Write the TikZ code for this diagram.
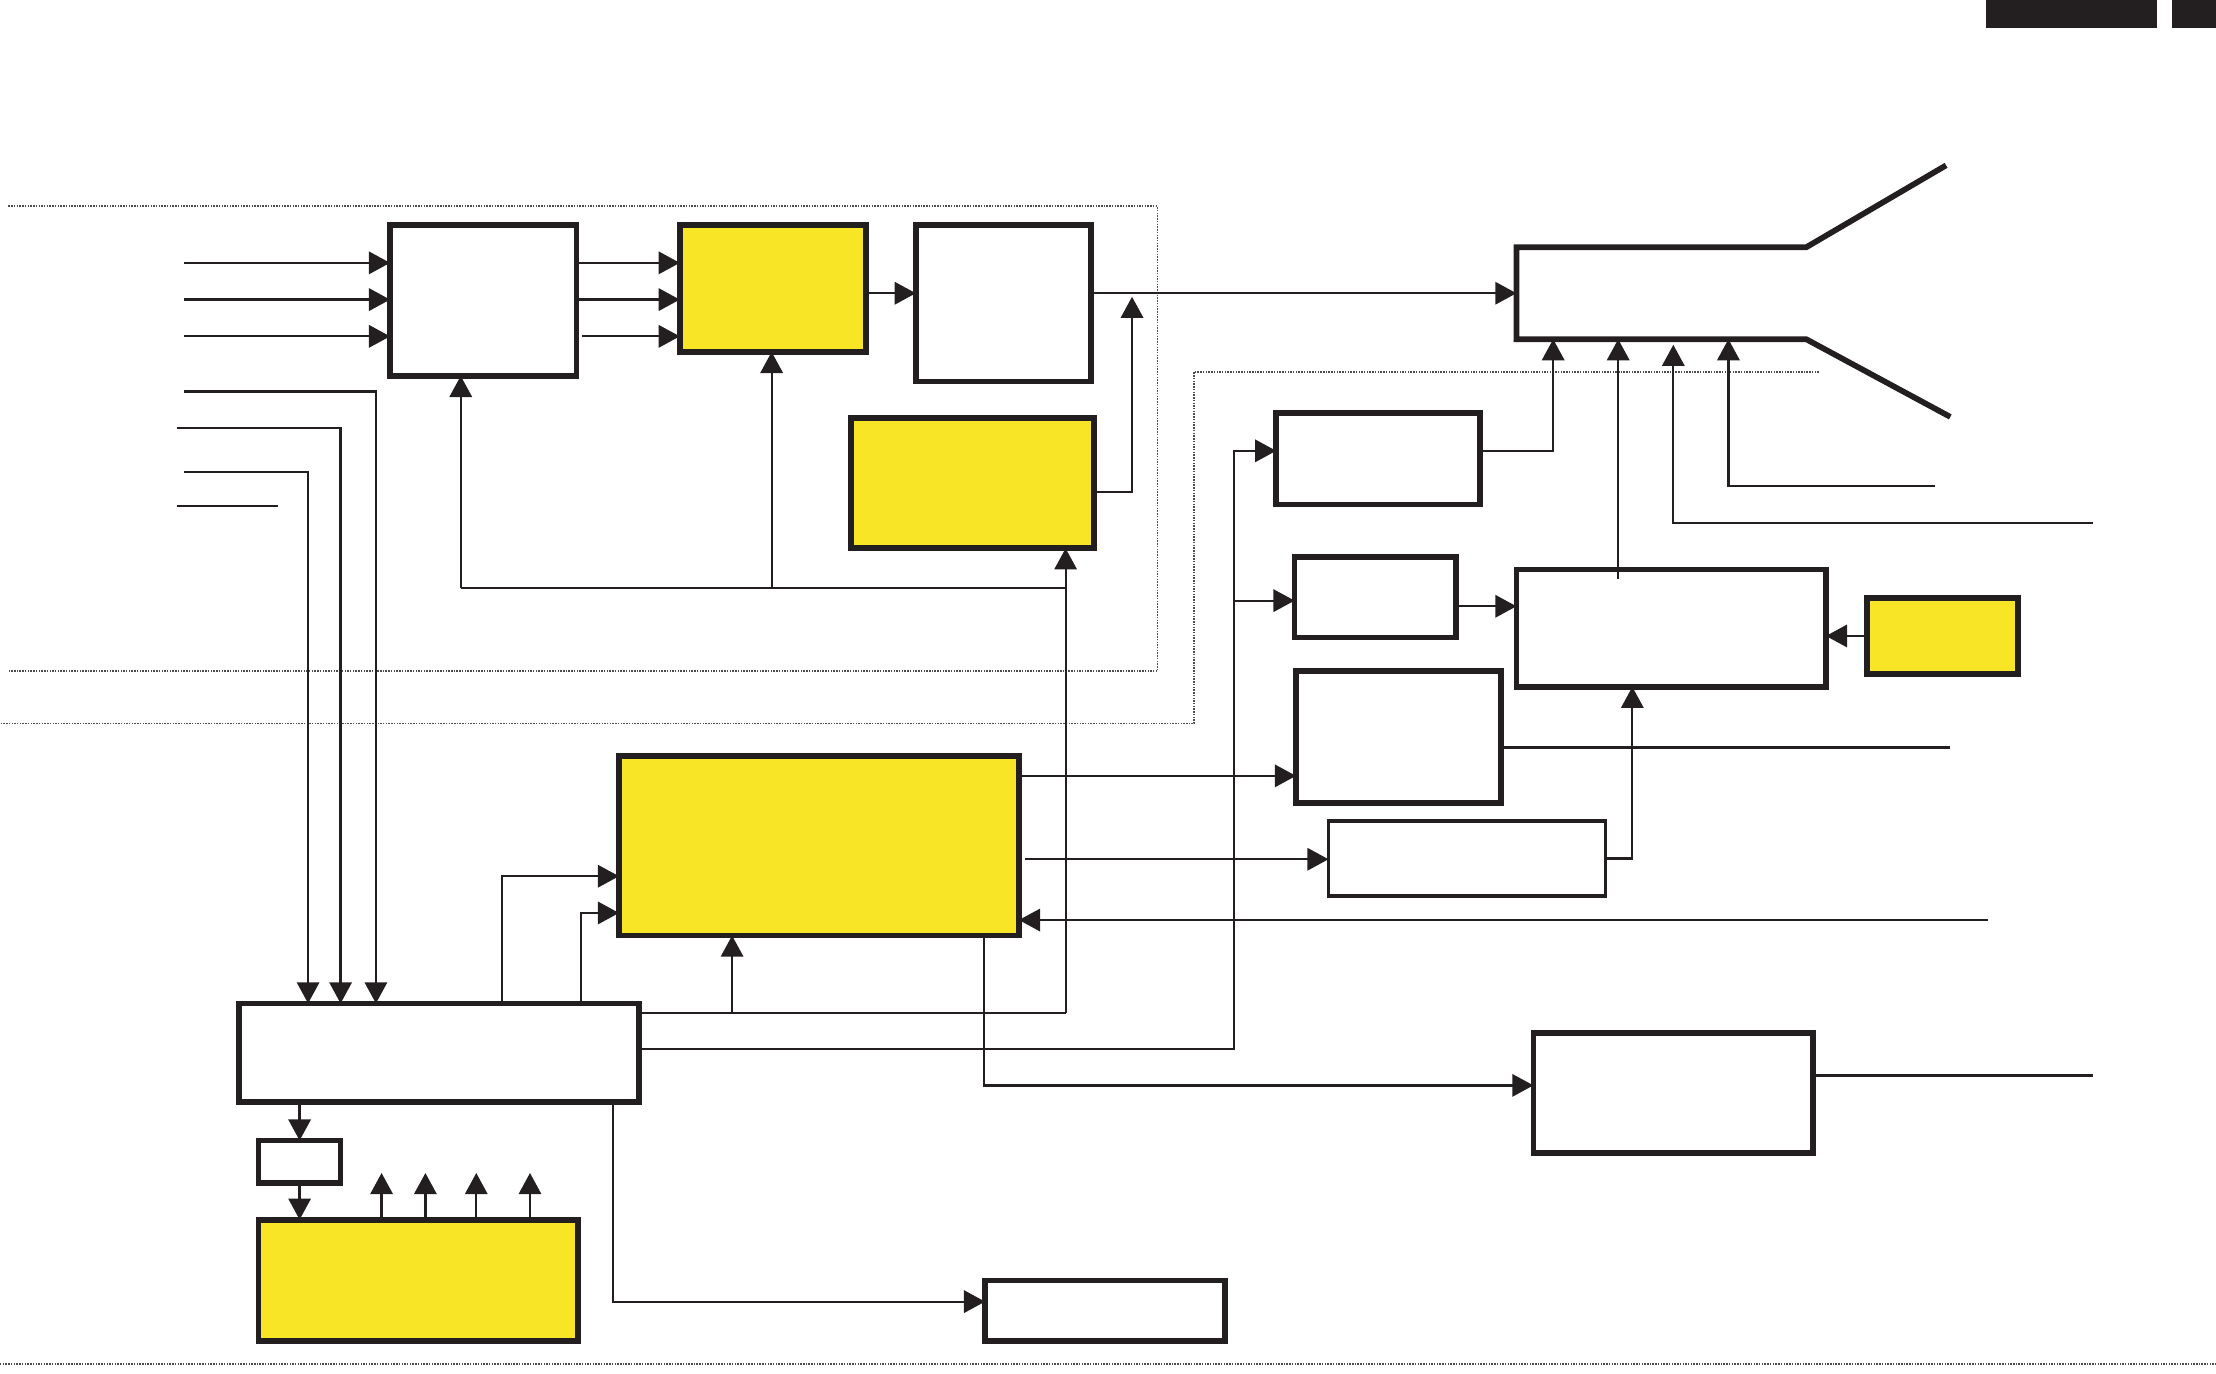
\documentclass[tikz,border=0pt]{standalone}
\usetikzlibrary{arrows.meta}
\definecolor{ink}{RGB}{35,31,32}
\definecolor{yel}{RGB}{248,230,38}
\newcommand\bxnode[6]{\node[#2, minimum width={(#5-#3)*0.02cm}, minimum height={(#6-#4)*0.02cm}] (#1) at ({(#3+#5)/2},{(#4+#6)/2}) {};}
\begin{document}
\begin{tikzpicture}[x=0.02cm,y=-0.02cm,
  wbox/.style={draw=ink, line width=2.3pt, fill=white, inner sep=0pt, outer sep=0pt},
  ybox/.style={wbox, fill=yel},
  tbox/.style={wbox, line width=1.3pt},
  bar/.style={draw=none, fill=ink, inner sep=0pt, outer sep=0pt},
  conn/.style={draw=ink, line width=0.9pt},
  arr/.style={conn, -{Triangle[length=8.5pt,width=9pt]}},
  heavy/.style={draw=ink, line width=2.3pt, line join=miter},
  dotl/.style={draw=black!70, line width=0.7pt, dash pattern=on 0.6pt off 0.5pt}]
\useasboundingbox (0,0) rectangle (1568,972);

% dotted region outlines
\draw[dotl] (6,146) -- (819,146) -- (819,475) -- (6,475);
\draw[dotl] (1287,263) -- (845,263) -- (845,512) -- (0,512);
\draw[dotl] (0,965) -- (1568,965);

% top right tabs
\bxnode{tabA}{bar}{1405}{0}{1526}{20}
\bxnode{tabB}{bar}{1537}{0}{1568}{20}

% boxes
\bxnode{A}{wbox}{276}{159}{408}{266}
\bxnode{B}{ybox}{481}{159}{613}{249}
\bxnode{C}{wbox}{648}{159}{772}{270}
\bxnode{D}{ybox}{602}{296}{774}{388}
\bxnode{F}{wbox}{903}{292}{1047}{357}
\bxnode{G}{wbox}{916}{394}{1030}{451}
\bxnode{H}{wbox}{1073}{403}{1292}{486}
\bxnode{I}{ybox}{1321}{423}{1428}{477}
\bxnode{J}{wbox}{917}{475}{1062}{568}
\bxnode{K}{tbox}{940}{581}{1136}{634}
\bxnode{L}{ybox}{438}{535}{721}{662}
\bxnode{M}{wbox}{169}{710}{452}{780}
\bxnode{N}{wbox}{183}{807}{241}{837}
\bxnode{O}{ybox}{183}{863}{409}{949}
\bxnode{P}{wbox}{697}{906}{867}{949}
\bxnode{Q}{wbox}{1085}{731}{1283}{816}
\node[inner sep=0pt, outer sep=0pt, minimum width={205*0.02cm}, minimum height={65*0.02cm}] (crt) at (1175.5,207.5) {};

% CRT outline
\coordinate (flare1) at (1377,117);
\coordinate (flare2) at (1380,295);
\draw[heavy] (flare1) -- (crt.north east) -- (crt.north west) -- (crt.south west) -- (crt.south east) -- (flare2);

% inputs to A
\coordinate (in1) at (130,186);
\coordinate (in2) at (130,212);
\coordinate (in3) at (130,238);
\draw[arr] (in1) -- (in1 -| A.west);
\draw[arr] (in2) -- (in2 -| A.west);
\draw[arr] (in3) -- (in3 -| A.west);
% A to B
\draw[arr] (A.east |- in1) -- (B.west |- in1);
\draw[arr] (A.east |- in2) -- (B.west |- in2);
\draw[arr] ([xshift={4*0.02cm}]A.east |- in3) -- (B.west |- in3);
% B to C, C to CRT
\draw[arr] (B.east |- crt.west) -- (C.west |- crt.west);
\draw[arr] (C.east |- crt.west) -- (crt.west);
% D up to the C-CRT line
\coordinate (dout) at (774,348);
\coordinate (dj) at (801,210);
\draw[arr] (D.east |- dout) -| (dj);

% left lines down to M
\coordinate (l4) at (130,277);
\coordinate (l5) at (125,303);
\coordinate (l6) at (130,334);
\coordinate (l7) at (125,358);
\coordinate (l7e) at (197,358);
\coordinate (m1) at (218,710);
\coordinate (m2) at (241,710);
\coordinate (m3) at (266,710);
\draw[arr] (l4) -| (m3);
\draw[arr] (l5) -| (m2);
\draw[arr] (l6) -| (m1);
\draw[conn] (l7) -- (l7e);

% feedback bus
\coordinate (fb1) at (326,416);
\coordinate (fb2) at (546,416);
\coordinate (fb3) at (754,416);
\draw[conn] (fb1) -- (fb3);
\draw[arr] (fb1) -- (fb1 |- A.south);
\draw[arr] (fb2) -- (fb2 |- B.south);
\coordinate (mf) at (754,717);
\draw[conn] (M.east |- mf) -- (mf);
\draw[arr] (mf) -- (mf |- D.south);
\coordinate (ml) at (518,717);
\draw[arr] (ml) -- (ml |- L.south);

% M to L
\coordinate (m4) at (355,710);
\coordinate (m5) at (411,710);
\coordinate (la) at (438,620);
\coordinate (lb) at (438,646);
\draw[arr] (m4) |- (la);
\draw[arr] (m5) |- (lb);

% L right side
\coordinate (lj) at (917,549);
\draw[arr] (L.east |- lj) -- (lj);
\coordinate (lk) at (940,608);
\draw[arr] ([xshift={4*0.02cm}]L.east |- lk) -- (lk);
\coordinate (lr) at (1407,651);
\draw[arr] (lr) -- (lr -| L.east);
\coordinate (lq) at (696,662);
\coordinate (qw) at (1085,768);
\draw[arr] (lq) |- (qw);

% M right to F and G
\coordinate (mg) at (873,742);
\coordinate (fw) at (903,319);
\draw[arr] (M.east |- mg) -- (mg) |- (fw);
\coordinate (gw) at (916,425);
\draw[arr] (gw -| mg) -- (gw);

% M bottom
\draw[arr] (N.north |- M.south) -- (N.north);
\draw[arr] (N.south) -- (N.south |- O.north);
\coordinate (mp) at (434,780);
\coordinate (pw) at (697,921);
\draw[arr] (mp) |- (pw);

% O outputs
\foreach \k/\xx in {1/270,2/301,3/337,4/375}{
  \coordinate (ob\k) at (\xx,861);
  \coordinate (ot\k) at (\xx,830);
  \draw[arr] (ob\k) -- (ot\k);
}

% into CRT bottom
\coordinate (e1) at (1099,240);
\coordinate (e2) at (1145,240);
\coordinate (e3) at (1184,244);
\coordinate (e4) at (1223,240);
\coordinate (fo) at (1047,319);
\draw[arr] (F.east |- fo) -| (e1);
\draw[arr] ([yshift={-7*0.02cm}]e2 |- H.north) -- (e2);
\coordinate (r1) at (1481,370);
\draw[arr] (r1) -| (e3);
\coordinate (r2) at (1369,344);
\draw[arr] (r2) -| (e4);

% G, I, K to H
\coordinate (gh) at (1073,429);
\draw[arr] (G.east |- gh) -- (gh);
\draw[arr] (I.west) -- (I.west -| H.east);
\coordinate (kh) at (1155,486);
\draw[arr] (K.east) -| (kh);

% J and Q outputs
\coordinate (jr) at (1380,529);
\draw[conn] (J.east |- jr) -- (jr);
\coordinate (qr) at (1481,761);
\draw[conn] (Q.east |- qr) -- (qr);
\end{tikzpicture}
\end{document}
